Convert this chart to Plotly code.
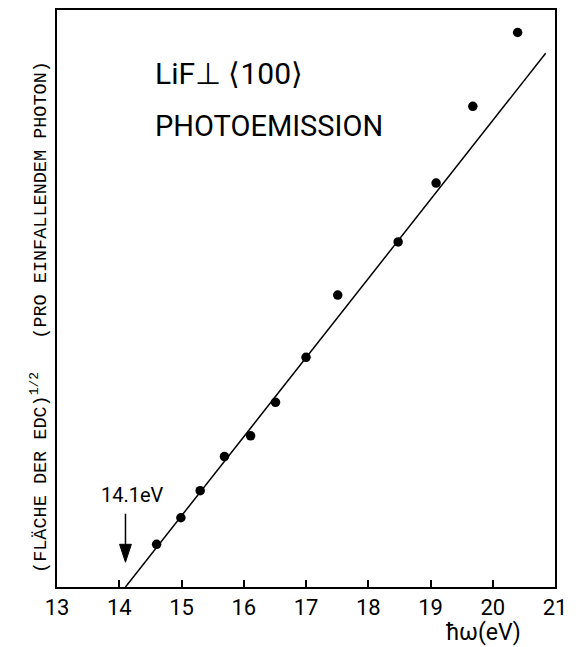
import plotly.graph_objects as go

# Photon energy (eV) and square root of the EDC area per incident photon (arb. units)
photon_energy = [14.60, 14.99, 15.30, 15.69, 16.11, 16.51, 17.00, 17.51, 18.48, 19.09, 19.68, 20.40]
sqrt_yield = [0.74, 1.20, 1.67, 2.26, 2.62, 3.20, 3.98, 5.06, 5.98, 7.00, 8.33, 9.61]

# Straight-line extrapolation to the photoemission threshold
fit_energy = [14.1, 20.85]
fit_yield = [0.0, 9.25]
threshold = 14.1

x_ticks = [13, 14, 15, 16, 17, 18, 19, 20, 21]

SANS = "Roboto, Liberation Sans, sans-serif"
MONO = "Liberation Mono, DejaVu Sans Mono, monospace"

fig = go.Figure()

fig.add_trace(go.Scatter(
    x=fit_energy, y=fit_yield, mode="lines",
    line=dict(color="black", width=1.5), hoverinfo="skip", showlegend=False,
))
fig.add_trace(go.Scatter(
    x=photon_energy, y=sqrt_yield, mode="markers",
    marker=dict(color="black", size=9.5), showlegend=False,
))

# threshold arrow: shaft plus filled head pointing down onto the axis
shapes = [
    dict(type="line", xref="x", yref="y", x0=threshold, x1=threshold, y0=0.7, y1=1.27,
         line=dict(color="black", width=1.5)),
    dict(type="path", xref="x", yref="y",
         path=f"M {threshold - 0.095},0.74 L {threshold + 0.095},0.74 L {threshold},0.43 Z",
         fillcolor="black", line=dict(color="black", width=1)),
]

annotations = [
    dict(x=14.22, y=1.59, xref="x", yref="y", text=f"{threshold:.1f}eV",
         showarrow=False, font=dict(family=SANS, size=20, color="black"),
         xanchor="center", yanchor="middle"),
    # title block
    dict(x=(153 - 57) / 498, y=(587 - 72) / 579, xref="paper", yref="paper",
         text="LiF\u22a5 \u27e8100\u27e9", showarrow=False,
         font=dict(family=SANS, size=30, color="black"),
         xanchor="left", yanchor="middle"),
    dict(x=(153 - 57) / 498, y=(587 - 124) / 579, xref="paper", yref="paper",
         text="PHOTOEMISSION", showarrow=False,
         font=dict(family=SANS, size=29, color="black"),
         xanchor="left", yanchor="middle"),
    # axis titles
    dict(x=(483 - 57) / 498, y=(587 - 633) / 579, xref="paper", yref="paper",
         text="\u0127\u03c9(eV)", showarrow=False,
         font=dict(family=SANS, size=23, color="black"),
         xanchor="center", yanchor="middle"),
    dict(x=(40 - 57) / 498, y=(587 - 316) / 579, xref="paper", yref="paper",
         text="(FL\u00c4CHE DER EDC)<sup>1/2</sup>\u00a0\u00a0\u00a0(PRO EINFALLENDEM PHOTON)",
         textangle=-90, showarrow=False,
         font=dict(family=MONO, size=18.5, color="black"),
         xanchor="center", yanchor="middle"),
]

fig.update_layout(
    width=581, height=647,
    margin=dict(l=57, r=26, t=8, b=60),
    paper_bgcolor="white", plot_bgcolor="white",
    annotations=annotations, shapes=shapes,
    xaxis=dict(
        range=[13, 21], tickvals=x_ticks, ticktext=[str(t) for t in x_ticks],
        ticks="inside", ticklen=7, tickwidth=1.5, tickcolor="black",
        showline=True, linecolor="black", linewidth=2, mirror=True,
        showgrid=False, zeroline=False,
        tickfont=dict(family=SANS, size=22, color="black"),
    ),
    yaxis=dict(
        range=[0, 10], showticklabels=False, ticks="",
        showline=True, linecolor="black", linewidth=2, mirror=True,
        showgrid=False, zeroline=False,
    ),
)

fig.write_html("out.html")
